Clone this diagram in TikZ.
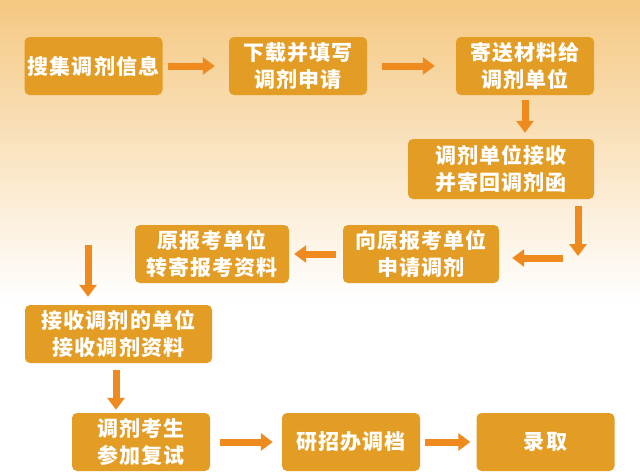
\documentclass[tikz,border=0pt]{standalone}
\usepackage{fontspec}
\newfontfamily\cjk{Noto Sans CJK SC}[BoldFont={Noto Sans CJK SC Black}, LetterSpace=5]
\usetikzlibrary{arrows.meta}
\definecolor{boxfill}{HTML}{E39C24}
\definecolor{arrowfill}{HTML}{EF8A1E}
\definecolor{bgtop}{HTML}{F5C882}
\begin{document}
\begin{tikzpicture}[
  x=1pt, y=-1pt,
  every node/.style={fill=boxfill, rounded corners=5pt, align=center, text=white,
    font=\cjk\bfseries\fontsize{21}{27}\selectfont, inner sep=0pt,
    minimum width=138pt, minimum height=58pt},
  arrow/.style={-{Triangle[length=12pt,width=17pt]}, line width=7pt, draw=arrowfill}
]
\useasboundingbox (0,0) rectangle (640,472);
\shade[top color=bgtop, bottom color=white] (0,0) rectangle (640,300);
\fill[white] (0,300) rectangle (640,472);
\node (a) at (93.5,66) {搜集调剂信息};
\node (b) at (298,66) {下载并填写\\调剂申请};
\node (c) at (525,66) {寄送材料给\\调剂单位};
\node (d) [minimum width=186pt, minimum height=60pt] at (501,169) {调剂单位接收\\并寄回调剂函};
\node (e) [minimum width=156pt] at (421,254) {向原报考单位\\申请调剂};
\node (f) [minimum width=154pt] at (212,254) {原报考单位\\转寄报考资料};
\node (g) [minimum width=187pt] at (118.5,334) {接收调剂的单位\\接收调剂资料};
\node (h) at (141,442) {调剂考生\\参加复试};
\node (i) at (351,442) {研招办调档};
\node (j) at (545.5,442) {录取};
\coordinate (d1) at (578,256);
\coordinate (e1) at (563,258);
\coordinate (g1) at (88,245);
\draw[arrow, shorten <=5pt, shorten >=14pt] (a) -- (b);
\draw[arrow, shorten <=15pt, shorten >=21pt] (b) -- (c);
\draw[arrow, shorten <=5pt, shorten >=6pt] (c.south) -- (c.south |- d.north);
\draw[arrow, shorten <=7pt] (d.south -| d1) -- (d1);
\draw[arrow, shorten >=13pt] (e1) -- (e1 -| e.east);
\draw[arrow, shorten <=7pt, shorten >=5pt] (e) -- (f);
\draw[arrow, shorten >=8pt] (g1) -- (g1 |- g.north);
\draw[arrow, shorten <=7pt, shorten >=3pt] (g.south -| 116,0) -- (h.north -| 116,0);
\draw[arrow, shorten <=10pt, shorten >=9pt] (h) -- (i);
\draw[arrow, shorten <=5pt, shorten >=6pt] (i) -- (j);
\end{tikzpicture}
\end{document}
